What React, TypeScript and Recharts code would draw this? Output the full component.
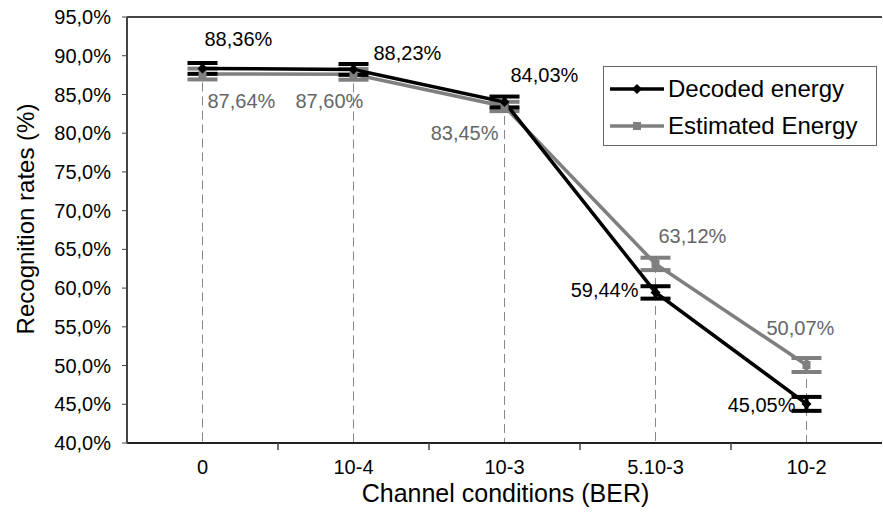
import React from 'react';
import {
  LineChart,
  Line,
  XAxis,
  YAxis,
  ErrorBar,
  ReferenceLine,
  LabelList,
} from 'recharts';

const categories = ['0', '10-4', '10-3', '5.10-3', '10-2'];
const decodedEnergy = [88.36, 88.23, 84.03, 59.44, 45.05];
const estimatedEnergy = [87.64, 87.6, 83.45, 63.12, 50.07];
const decodedError = [0.7, 0.7, 0.7, 0.8, 0.9];
const estimatedError = [0.7, 0.7, 0.6, 0.8, 0.9];
const yTicks = [40, 45, 50, 55, 60, 65, 70, 75, 80, 85, 90, 95];

// label placement relative to each point: [dx, dy, anchor]
const decodedLabelPos: [number, number, string][] = [
  [2, -29, 'start'],
  [20, -16, 'start'],
  [6, -27, 'start'],
  [-17, -2, 'end'],
  [-11, 1, 'end'],
];
const estimatedLabelPos: [number, number, string][] = [
  [5, 27, 'start'],
  [-58, 27, 'start'],
  [-6, 27, 'end'],
  [3, -28, 'start'],
  [-40, -37, 'start'],
];

const FONT = '"Liberation Sans", Arial, sans-serif';
const BLACK = '#000000';
const GRAY = '#7f7f7f';

const data = categories.map((cat, i) => ({
  cat,
  decoded: decodedEnergy[i],
  estimated: estimatedEnergy[i],
  decErr: decodedError[i],
  estErr: estimatedError[i],
}));

const fmt = (v: number) => v.toFixed(2).replace('.', ',') + '%';
const fmtTick = (v: number) => v.toFixed(1).replace('.', ',') + '%';

const makeLabel = (pos: [number, number, string][], color: string) => (props: any) => {
  const { x, y, value, index } = props;
  const [dx, dy, anchor] = pos[index];
  return (
    <text
      x={x + dx}
      y={y + dy}
      textAnchor={anchor as any}
      dominantBaseline="central"
      fontSize={20}
      fontFamily={FONT}
      fill={color}
    >
      {fmt(value)}
    </text>
  );
};

const Diamond = (props: any) => {
  const { cx, cy } = props;
  if (cx == null || cy == null) return null;
  return <path d={`M${cx},${cy - 5}L${cx + 5},${cy}L${cx},${cy + 5}L${cx - 5},${cy}Z`} fill={BLACK} />;
};

const Square = (props: any) => {
  const { cx, cy } = props;
  if (cx == null || cy == null) return null;
  return <rect x={cx - 4} y={cy - 4} width={8} height={8} fill={GRAY} />;
};

const XTick = (props: any) => {
  const { x, y, payload, index } = props;
  const off = payload.offset || 75.5;
  return (
    <g>
      {index < categories.length - 1 && (
        <line x1={x + off} y1={y} x2={x + off} y2={y + 7} stroke="#444" strokeWidth={1.5} />
      )}
      <text x={x} y={y + 24} textAnchor="middle" dominantBaseline="central" fontSize={20} fontFamily={FONT} fill="#000">
        {payload.value}
      </text>
    </g>
  );
};

const LegendBox = () => (
  <div
    style={{
      position: 'absolute',
      left: 603,
      top: 66,
      border: '1.5px solid #666',
      background: '#fff',
      width: 274,
      height: 80,
      boxSizing: 'border-box',
      fontFamily: FONT,
      fontSize: 24,
      color: '#000',
      padding: '3px 0 0 6px',
      whiteSpace: 'nowrap',
    }}
  >
    <div style={{ display: 'flex', alignItems: 'center', height: 37 }}>
      <svg width={56} height={12}>
        <line x1={0} y1={6} x2={54} y2={6} stroke={BLACK} strokeWidth={3.5} />
        <path d="M27,1L32,6L27,11L22,6Z" fill={BLACK} />
      </svg>
      <span style={{ marginLeft: 2 }}>Decoded energy</span>
    </div>
    <div style={{ display: 'flex', alignItems: 'center', height: 37 }}>
      <svg width={56} height={12}>
        <line x1={0} y1={6} x2={54} y2={6} stroke={GRAY} strokeWidth={3.5} />
        <rect x={23} y={2} width={8} height={8} fill={GRAY} />
      </svg>
      <span style={{ marginLeft: 2 }}>Estimated Energy</span>
    </div>
  </div>
);

export default function App() {
  return (
    <div style={{ position: 'absolute', left: 0, top: 0, width: 883, height: 516, background: '#fff' }}>
      <LineChart width={883} height={516} data={data} margin={{ top: 17, right: 1, left: 0, bottom: 0 }}>
        <XAxis
          dataKey="cat"
          scale="band"
          height={73}
          tickSize={0}
          tickMargin={0}
          tick={<XTick />}
          axisLine={{ stroke: '#222', strokeWidth: 2 }}
          label={(p: any) => {
            const vb = p.viewBox;
            return (
              <text x={vb.x + vb.width / 2 + 1} y={vb.y + 50} textAnchor="middle" dominantBaseline="central" fontSize={25} fontFamily={FONT} fill="#000">
                Channel conditions (BER)
              </text>
            );
          }}
        />
        <YAxis
          domain={[40, 95]}
          ticks={yTicks}
          width={127}
          tickSize={5}
          tickMargin={11}
          tickFormatter={fmtTick}
          tick={{ fontSize: 20, fontFamily: FONT, fill: '#000' }}
          tickLine={{ stroke: '#444' }}
          axisLine={{ stroke: '#444', strokeWidth: 2 }}
          label={(p: any) => {
            const vb = p.viewBox;
            const cx = 25;
            const cy = vb.y + vb.height / 2 - 11;
            return (
              <text x={cx} y={cy} transform={`rotate(-90 ${cx} ${cy})`} textAnchor="middle" dominantBaseline="central" fontSize={24} fontFamily={FONT} fill="#000">
                Recognition rates (%)
              </text>
            );
          }}
        />
        <ReferenceLine y={95} stroke="#444" strokeWidth={2} />
        {categories.map((cat, i) => (
          <ReferenceLine
            key={cat}
            segment={[
              { x: cat, y: Math.max(decodedEnergy[i], estimatedEnergy[i]) },
              { x: cat, y: 40 },
            ]}
            stroke="#888"
            strokeWidth={1}
            strokeDasharray="9 5"
          />
        ))}
        <Line
          dataKey="estimated"
          stroke={GRAY}
          strokeWidth={3.5}
          dot={<Square />}
          isAnimationActive={false}
        >
          <ErrorBar dataKey="estErr" width={15} stroke={GRAY} strokeWidth={4} direction="y" />
          <LabelList dataKey="estimated" content={makeLabel(estimatedLabelPos, '#666')} />
        </Line>
        <Line
          dataKey="decoded"
          stroke={BLACK}
          strokeWidth={3.5}
          dot={<Diamond />}
          isAnimationActive={false}
        >
          <ErrorBar dataKey="decErr" width={15} stroke={BLACK} strokeWidth={4} direction="y" />
          <LabelList dataKey="decoded" content={makeLabel(decodedLabelPos, '#000')} />
        </Line>
      </LineChart>
      <LegendBox />
    </div>
  );
}
